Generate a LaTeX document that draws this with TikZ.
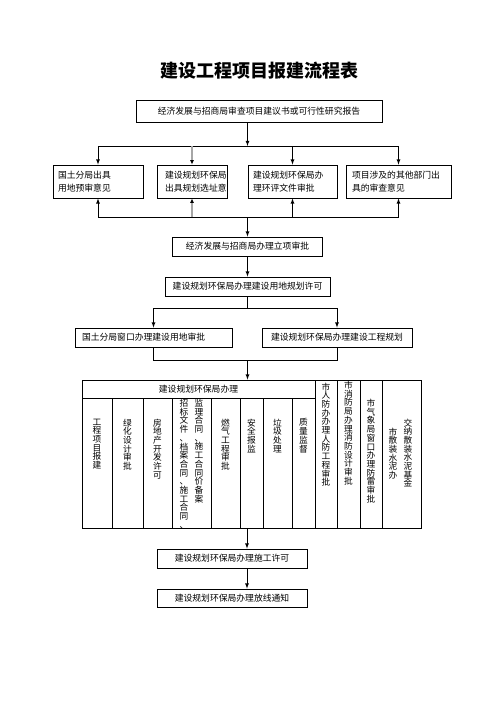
\documentclass[tikz,border=0pt]{standalone}
\usepackage{fontspec}
\newfontfamily\cjk{Noto Sans CJK SC}
\usetikzlibrary{positioning, arrows.meta}

% stack the characters of a word one under the other
\def\vcharsloop#1{\ifx#1\relax\else\hbox to 9pt{\hss#1\hss}\expandafter\vcharsloop\fi}
\def\vchars#1{\vbox{\baselineskip=8.7pt\lineskiplimit=-10pt\vcharsloop#1\relax}}

\tikzset{
  box/.style={draw, line width=0.8pt, inner sep=0pt, font=\cjk\fontsize{8.8}{13}\selectfont},
  cell/.style={draw, line width=0.8pt, inner sep=0pt},
  vtxt/.style={anchor=north, inner sep=0pt, font=\cjk\fontsize{8.7}{8.7}\selectfont},
  link/.style={line width=0.8pt},
  flow/.style={line width=0.8pt, -latex},
  grayflow/.style={line width=1.4pt, gray!70, -{Latex[black, length=4.5pt, width=4pt]}}
}

\begin{document}
\begin{tikzpicture}[x=1pt, y=-1pt]
	\useasboundingbox (0,0) rectangle (496,702);
	\node[font=\cjk\bfseries\fontsize{18}{20}\selectfont] (title) at (259,71) {建设工程项目报建流程表};

	\node[box, minimum width=246pt, minimum height=22pt] (jfsc) at (259,111) {经济发展与招商局审查项目建议书或可行性研究报告};

	% four opinions
	\node[box, minimum width=90pt, minimum height=33pt, text width=80pt, align=left] (gtys) at (98,181.5) {国土分局出具\\用地预审意见};
	\node[box, minimum width=70pt, minimum height=33pt, text width=54pt, align=left] (ghxz) at (192,181.5) {建设规划环保局\\出具规划选址意};
	\node[box, minimum width=89pt, minimum height=33pt, text width=79pt, align=left] (hpsp) at (292.5,181.5) {建设规划环保局办\\理环评文件审批};
	\node[box, minimum width=105pt, minimum height=33pt, text width=93pt, align=left] (qtyj) at (398.5,181.5) {项目涉及的其他部门出\\具的审查意见};

	\coordinate (j1) at (247.5,146);
	\coordinate (j2) at (247.5,217);
	\draw[flow] (jfsc.south -| j1) -- (j1);
	\draw[link] (gtys.north |- j1) -- (qtyj.north |- j1);
	\draw[link] (gtys.south |- j2) -- (qtyj.south |- j2);
	\foreach \b in {gtys, hpsp, qtyj} {
		\draw[flow] (\b.north |- j1) -- (\b.north);
		\draw[flow] (\b.south |- j2) -- (\b.south);
	}
	\draw[grayflow] (ghxz.north |- j1) -- (ghxz.north);
	\draw[grayflow] (ghxz.south |- j2) -- (ghxz.south);

	\node[box, minimum width=150pt, minimum height=19pt] (lxsp) at (247.5,246.5) {经济发展与招商局办理立项审批};
	\node[box, minimum width=165pt, minimum height=19pt] (ydgh) at (247.5,286.5) {建设规划环保局办理建设用地规划许可};
	\draw[flow] (j2) -- (j2 |- lxsp.north);
	\draw[flow] (lxsp.south) -- (ydgh.north);

	\node[box, minimum width=157pt, minimum height=19pt, text width=143pt, align=left] (gtsp) at (153.5,337.5) {国土分局窗口办理建设用地审批};
	\node[box, minimum width=150pt, minimum height=19pt] (gcgh) at (337,337.5) {建设规划环保局办理建设工程规划};

	\coordinate (j3) at (247.5,308);
	\coordinate (j4) at (247.5,360);
	\draw[link] (ydgh.south) -- (j3);
	\draw[link] (gtsp.north |- j3) -- (gcgh.north |- j3);
	\draw[flow] (gtsp.north |- j3) -- (gtsp.north);
	\draw[flow] (gcgh.north |- j3) -- (gcgh.north);
	\draw[link] (gtsp.south) -- (gtsp.south |- j4) -- (gcgh.south |- j4) -- (gcgh.south);

	% table of approvals
	\node[box, minimum width=233pt, minimum height=18pt] (hdr) at (198.5,389) {建设规划环保局办理};
	\draw[flow] (j4) -- (j4 |- hdr.north);
	\foreach \n/\cx/\cw/\txt in {c1/97/30/工程项目报建, c2/127.5/31/绿化设计审批, c3/157.5/29/房地产开发许可, c5/225.5/29/燃气工程审批, c6/251.5/23/安全报监, c7/277.5/29/垃圾处理, c8/303.5/23/质量监督} {
		\node[cell, minimum width=\cw pt, minimum height=130pt] (\n) at (\cx,463) {};
		\node[vtxt] at (\cx,418.5) {\expandafter\vchars\expandafter{\txt}};
	}
	\node[cell, minimum width=39pt, minimum height=130pt] (c4) at (191.5,463) {};
	\node[vtxt] at (199,399) {\vchars{监理合同、施工合同价备案}};
	\node[vtxt] at (184,399) {\vchars{招标文件、档案合同、施工合同、}};
	\foreach \n/\cx/\cw/\ty/\txt in {c9/326/22/382.5/市人防办办理人防工程审批, c10/348.5/23/381/市消防局办理消防设计审批, c11/371/22/399/市气象局窗口办理防雷审批} {
		\node[cell, minimum width=\cw pt, minimum height=148pt] (\n) at (\cx,454) {};
		\node[vtxt] at (\cx,\ty) {\expandafter\vchars\expandafter{\txt}};
	}
	\node[cell, minimum width=39pt, minimum height=148pt] (c12) at (401.5,454) {};
	\node[vtxt] at (408,418.5) {\vchars{交纳散装水泥基金}};
	\node[vtxt] at (393,427.5) {\vchars{市散装水泥办}};

	\node[box, minimum width=150pt, minimum height=19pt] (sgxk) at (232,558.5) {建设规划环保局办理施工许可};
	\node[box, minimum width=150pt, minimum height=18pt] (fxtz) at (232,598) {建设规划环保局办理放线通知};
	\coordinate (tbot) at (247,528);
	\draw[flow] (tbot) -- (tbot |- sgxk.north);
	\draw[flow] (tbot |- sgxk.south) -- (tbot |- fxtz.north);
\end{tikzpicture}
\end{document}
